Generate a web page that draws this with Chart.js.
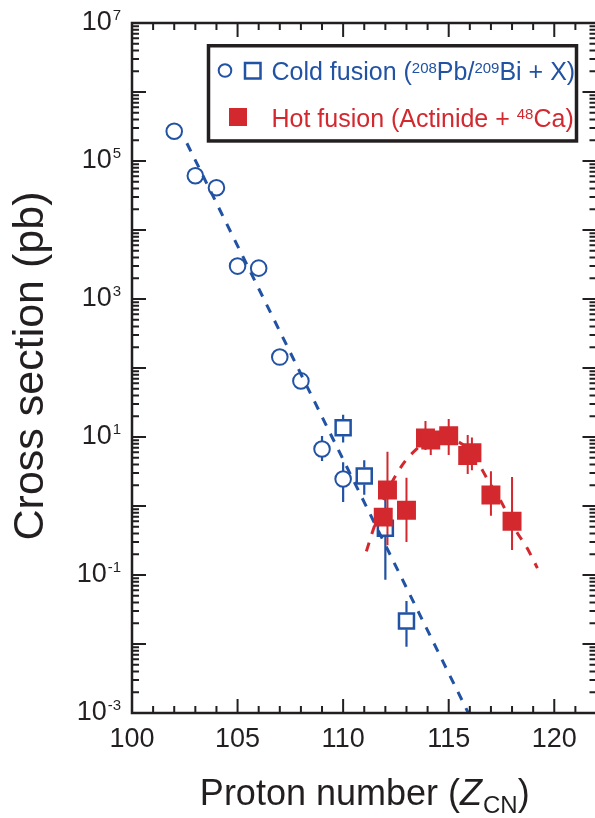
<!DOCTYPE html>
<html>
<head>
<meta charset="utf-8">
<script src="https://cdn.jsdelivr.net/npm/chart.js@4.4.0/dist/chart.umd.min.js"></script>
<style>
  html, body { margin: 0; padding: 0; background: #fff; overflow: hidden; }
  #wrap { width: 600px; height: 818px; }
</style>
</head>
<body>
<div id="wrap"><canvas id="chart" width="600" height="818"></canvas></div>
<script>
// cold fusion, circles (208Pb/209Bi targets)
const coldCircleZ = [102, 103, 104, 105, 106, 107, 108, 109, 110];
const coldCircleSigma = [2.7e5, 6.1e4, 4.1e4, 3.0e3, 2.8e3, 144, 65, 6.7, 2.46];
const coldCircleLo = [null, null, null, null, null, null, null, 4.5, 1.14];
const coldCircleHi = [null, null, null, null, null, null, null, 10.3, 4.3];

// cold fusion, squares
const coldSquareZ = [110, 111, 112, 113];
const coldSquareSigma = [13.6, 2.72, 0.475, 0.0215];
const coldSquareLo = [8.3, 1.45, 0.085, 0.0091];
const coldSquareHi = [21, 4.6, 1.3, 0.042];

// hot fusion (actinide + 48Ca)
const hotZ = [111.9, 112.1, 113, 113.9, 114.15, 115, 115.9, 116.1, 117, 118];
const hotSigma = [0.69, 1.71, 0.87, 9.7, 9.06, 10.4, 5.4, 5.9, 1.44, 0.60];
const hotLo = [null, 0.27, 0.30, 6.5, 5.5, 5.5, 2.9, 3.3, 0.72, 0.23];
const hotHi = [null, 6.1, 2.57, 17, 12.9, 18.2, 10.7, 9.8, 3.2, 2.63];

// dashed guide lines
const coldFitZ = [102.6, 115.93];
const coldFitSigma = [1.81e5, 1e-3];
const hotFitZ = [111.1, 111.4, 112.0, 112.8, 113.5, 114.0, 114.7, 115.4, 116.0, 116.4, 116.9, 117.4, 118.2, 118.7, 119.2];
const hotFitSigma = [0.22, 0.43, 1.4, 3.9, 6.8, 8.7, 10, 8.7, 6.3, 4.2, 2.25, 1.29, 0.43, 0.25, 0.126];

// axis ticks
const xTickLabels = [100, 105, 110, 115, 120];
const yTickExp = [7, 5, 3, 1, -1, -3];

const FONT = '"Liberation Sans", Arial, Helvetica, sans-serif';
const BLUE = '#2152a3';
const RED = '#d2282e';
const INK = '#231f20';

function pts(xs, ys) {
  return xs.map((x, i) => ({ x: x, y: ys[i] }));
}

function drawErrorBars(chart, xs, ys, lo, hi, color, gap, width) {
  const ctx = chart.ctx;
  const xS = chart.scales.x, yS = chart.scales.y;
  ctx.save();
  ctx.strokeStyle = color;
  ctx.lineWidth = width;
  xs.forEach((z, i) => {
    if (lo[i] == null) return;
    const px = xS.getPixelForValue(z);
    const py = yS.getPixelForValue(ys[i]);
    ctx.beginPath();
    ctx.moveTo(px, yS.getPixelForValue(hi[i]));
    ctx.lineTo(px, py - gap);
    ctx.moveTo(px, py + gap);
    ctx.lineTo(px, yS.getPixelForValue(lo[i]));
    ctx.stroke();
  });
  ctx.restore();
}

// draws text pieces, superscripts raised
function drawRich(ctx, parts, x, y, size, supSize, color) {
  ctx.fillStyle = color;
  ctx.textBaseline = 'alphabetic';
  ctx.textAlign = 'left';
  parts.forEach(p => {
    const sup = p[1];
    ctx.font = (sup ? supSize : size) + 'px ' + FONT;
    ctx.fillText(p[0], x, sup ? y - size * 0.3 : y);
    x += ctx.measureText(p[0]).width;
  });
}

const errorBarsPlugin = {
  id: 'errorBars',
  beforeDatasetsDraw(chart) {
    drawErrorBars(chart, coldCircleZ, coldCircleSigma, coldCircleLo, coldCircleHi, BLUE, 8, 2.2);
    drawErrorBars(chart, coldSquareZ, coldSquareSigma, coldSquareLo, coldSquareHi, BLUE, 8.5, 2.2);
    drawErrorBars(chart, hotZ, hotSigma, hotLo, hotHi, RED, 0, 2);
  }
};

const framePlugin = {
  id: 'frame',
  afterDraw(chart) {
    const { ctx, chartArea: a, scales: { x, y } } = chart;
    ctx.save();
    ctx.strokeStyle = INK;
    ctx.lineWidth = 2.5;
    ctx.strokeRect(a.left, a.top, a.right - a.left, a.bottom - a.top);

    // inward ticks on all four sides
    ctx.lineWidth = 2;
    ctx.beginPath();
    for (let z = 100; z <= 122; z++) {
      const px = x.getPixelForValue(z);
      const len = z % 5 === 0 ? 14 : 7;
      ctx.moveTo(px, a.bottom); ctx.lineTo(px, a.bottom - len);
      ctx.moveTo(px, a.top); ctx.lineTo(px, a.top + len);
    }
    for (let e = -3; e <= 7; e++) {
      for (let m = 1; m <= 9; m++) {
        if (e === 7 && m > 1) break;
        const py = y.getPixelForValue(m * Math.pow(10, e));
        const len = m === 1 ? 14 : 7;
        ctx.moveTo(a.left, py); ctx.lineTo(a.left + len, py);
        ctx.moveTo(a.right, py); ctx.lineTo(a.right - len, py);
      }
    }
    ctx.stroke();

    // x tick labels
    ctx.fillStyle = INK;
    ctx.font = '27px ' + FONT;
    ctx.textAlign = 'center';
    ctx.textBaseline = 'alphabetic';
    xTickLabels.forEach(v => {
      ctx.fillText(String(v), x.getPixelForValue(v), 747);
    });

    // y tick labels 10^n
    yTickExp.forEach(e => {
      const py = y.getPixelForValue(Math.pow(10, e));
      const expText = e < 0 ? '-' + Math.abs(e) : String(e);
      ctx.font = '15px ' + FONT;
      const wExp = ctx.measureText(expText).width;
      ctx.font = '27px ' + FONT;
      const wBase = ctx.measureText('10').width;
      const right = 121;
      ctx.textAlign = 'left';
      ctx.fillText('10', right - wExp - wBase - 1, py + 6.5);
      ctx.font = '15px ' + FONT;
      ctx.fillText(expText, right - wExp, py - 3);
    });

    // x title: Proton number (Z_CN)
    const t1 = 'Proton number (', tz = 'Z', tcn = 'CN', t2 = ')';
    ctx.font = '36px ' + FONT;
    const w1 = ctx.measureText(t1).width, w2 = ctx.measureText(t2).width;
    ctx.font = 'italic 36px ' + FONT;
    const wz = ctx.measureText(tz).width;
    ctx.font = '24px ' + FONT;
    const wcn = ctx.measureText(tcn).width;
    let tx = (a.left + a.right) / 2 - (w1 + wz + wcn + w2) / 2;
    const ty = 805;
    ctx.textAlign = 'left';
    ctx.font = '36px ' + FONT;
    ctx.fillText(t1, tx, ty); tx += w1;
    ctx.font = 'italic 36px ' + FONT;
    ctx.fillText(tz, tx, ty); tx += wz + 1;
    ctx.font = '24px ' + FONT;
    ctx.fillText(tcn, tx, ty + 8); tx += wcn;
    ctx.font = '36px ' + FONT;
    ctx.fillText(t2, tx, ty);

    // y title
    ctx.save();
    ctx.translate(43, 366);
    ctx.rotate(-Math.PI / 2);
    ctx.font = '43px ' + FONT;
    ctx.textAlign = 'center';
    ctx.fillText('Cross section (pb)', 0, 0);
    ctx.restore();

    // legend box
    ctx.fillStyle = '#fff';
    ctx.fillRect(207, 44, 371, 99);
    ctx.strokeStyle = INK;
    ctx.lineWidth = 3.5;
    ctx.strokeRect(208.5, 45.75, 368, 95.2);

    ctx.strokeStyle = BLUE;
    ctx.lineWidth = 2;
    ctx.beginPath();
    ctx.arc(225, 70.5, 6.3, 0, Math.PI * 2);
    ctx.stroke();
    ctx.lineWidth = 2.5;
    ctx.strokeRect(245, 63, 15.5, 15.5);
    drawRich(ctx, [['Cold fusion (', false], ['208', true], ['Pb/', false], ['209', true], ['Bi + X)', false]],
      271.5, 80, 25, 15, BLUE);

    ctx.fillStyle = RED;
    ctx.fillRect(229, 108, 18, 18);
    drawRich(ctx, [['Hot fusion (Actinide + ', false], ['48', true], ['Ca)', false]],
      271.5, 126.5, 25, 15, RED);

    ctx.restore();
  }
};

new Chart(document.getElementById('chart'), {
  type: 'scatter',
  data: {
    datasets: [
      {
        label: 'Hot fusion (Actinide + 48Ca)',
        data: pts(hotZ, hotSigma),
        pointStyle: 'rect',
        pointRadius: 13.4,
        backgroundColor: RED,
        borderColor: RED,
        borderWidth: 0,
        order: 0
      },
      {
        label: 'hot trend',
        data: pts(hotFitZ, hotFitSigma),
        showLine: true,
        borderColor: RED,
        borderWidth: 3,
        borderDash: [9, 9],
        pointRadius: 0,
        tension: 0.4,
        cubicInterpolationMode: 'monotone',
        order: 1
      },
      {
        label: 'Cold fusion circles',
        data: pts(coldCircleZ, coldCircleSigma),
        pointStyle: 'circle',
        pointRadius: 7.8,
        backgroundColor: 'rgba(255,255,255,0)',
        borderColor: BLUE,
        borderWidth: 2,
        order: 2
      },
      {
        label: 'Cold fusion squares',
        data: pts(coldSquareZ, coldSquareSigma),
        pointStyle: 'rect',
        pointRadius: 10.6,
        backgroundColor: 'rgba(255,255,255,0)',
        borderColor: BLUE,
        borderWidth: 2.5,
        order: 3
      },
      {
        label: 'cold trend',
        data: pts(coldFitZ, coldFitSigma),
        showLine: true,
        borderColor: BLUE,
        borderWidth: 3,
        borderDash: [9, 9],
        pointRadius: 0,
        order: 4
      }
    ]
  },
  options: {
    responsive: false,
    animation: false,
    devicePixelRatio: 1,
    events: [],
    layout: { autoPadding: false, padding: { left: 132, right: 3.5, top: 23, bottom: 105 } },
    plugins: {
      legend: { display: false },
      tooltip: { enabled: false }
    },
    scales: {
      x: { type: 'linear', min: 100, max: 122, display: false },
      y: { type: 'logarithmic', min: 1e-3, max: 1e7, display: false }
    }
  },
  plugins: [errorBarsPlugin, framePlugin]
});
</script>
</body>
</html>
